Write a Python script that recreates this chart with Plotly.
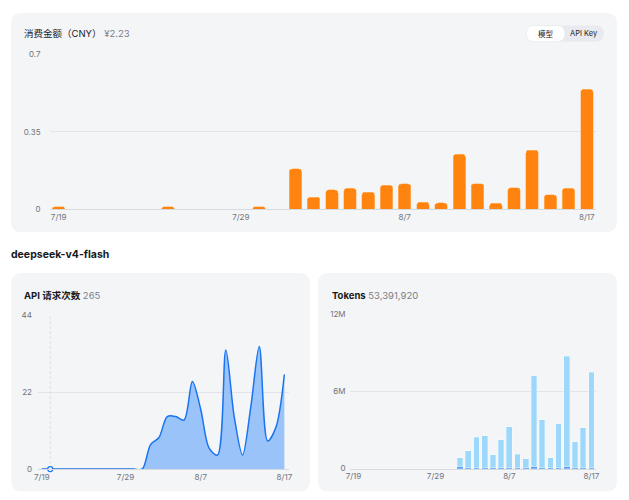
import pandas as pd
import plotly.graph_objects as go

# 30 days shown on every chart
days = pd.date_range("2026-07-19", "2026-08-17").strftime("%Y-%m-%d").tolist()
tick_days = ["2026-07-19", "2026-07-29", "2026-08-07", "2026-08-17"]
tick_labels = ["7/19", "7/29", "8/7", "8/17"]

# 消费金额 (CNY) per day
cost = [0.012, 0, 0, 0, 0, 0, 0.012, 0, 0, 0, 0, 0.012, 0,
        0.182, 0.055, 0.087, 0.094, 0.077, 0.108, 0.114, 0.031, 0.028,
        0.248, 0.115, 0.027, 0.097, 0.267, 0.065, 0.094, 0.542]

# deepseek-v4-flash API requests per day
requests = [0, 0, 0, 0, 0, 0, 0, 0, 0, 0, 0, 0, 0,
            7, 9, 15, 15, 14, 25, 17, 6, 4, 34, 15, 4, 18, 35, 8, 12, 27]

# tokens per day (total, and the darker bottom part)
tokens_total = [0] * 13 + [860000, 1400000, 2440000, 2570000, 1070000, 2240000, 3280000,
                           1140000, 760000, 7250000, 3810000, 860000, 3510000, 8770000,
                           2080000, 3200000, 7530000]
tokens_dark = [0] * 13 + [150000, 70000, 70000, 70000, 70000, 70000, 70000,
                          70000, 70000, 150000, 70000, 70000, 70000, 150000,
                          70000, 70000, 70000]
tokens_light = [t - d for t, d in zip(tokens_total, tokens_dark)]

# page body keeps its 8px margin, so the figure is drawn 8px in from the corner
OFF = 8
W, H = 629 - 2 * OFF, 500 - 2 * OFF
FONT = "Inter, 'Noto Sans CJK SC', sans-serif"
CARD = "#f4f5f7"
GRID = "#e2e4ea"
TICK = "#6f737b"


def px(x):
    return (x - OFF) / W


def py(y):
    return 1 - (y - OFF) / H


def rrect(x0, y0, x1, y1, r):
    rx, ry = r / W, r / H
    a, b, c, d = px(x0), py(y1), px(x1), py(y0)
    return (f"M{a+rx},{b} L{c-rx},{b} Q{c},{b} {c},{b+ry} L{c},{d-ry} Q{c},{d} {c-rx},{d} "
            f"L{a+rx},{d} Q{a},{d} {a},{d-ry} L{a},{b+ry} Q{a},{b} {a+rx},{b} Z")


def xrange_for(lo, hi):
    t0 = pd.Timestamp(days[0])
    return [t0 + pd.Timedelta(days=lo), t0 + pd.Timedelta(days=hi)]


fig = go.Figure()

fig.add_trace(go.Bar(x=days, y=cost, xaxis="x", yaxis="y",
                     marker=dict(color="#ff830f", line=dict(color="rgba(255,190,120,0.7)", width=0.8),
                                 cornerradius=3),
                     hoverinfo="skip"))

fig.add_trace(go.Scatter(x=days, y=requests, xaxis="x2", yaxis="y2", mode="lines",
                         line=dict(color="#1a73f0", width=1.5, shape="spline", smoothing=0.9),
                         fill="tozeroy", fillcolor="rgba(128,182,250,0.78)", hoverinfo="skip"))
fig.add_trace(go.Scatter(x=[days[1]], y=[requests[1]], xaxis="x2", yaxis="y2", mode="markers",
                         marker=dict(color="white", size=5, line=dict(color="#1a73f0", width=1.3)),
                         hoverinfo="skip", cliponaxis=False))

fig.add_trace(go.Bar(x=days, y=tokens_dark, xaxis="x3", yaxis="y3",
                     marker=dict(color="#5d9ff3", line=dict(width=0)), hoverinfo="skip"))
fig.add_trace(go.Bar(x=days, y=tokens_light, xaxis="x3", yaxis="y3",
                     marker=dict(color="#9dd8fb", line=dict(color="rgba(255,255,255,0.5)", width=0.6)),
                     hoverinfo="skip"))

xcommon = dict(type="date", tickvals=tick_days, ticktext=tick_labels, showgrid=False,
               zeroline=False, showline=True, linecolor="#d6d9e0", linewidth=1,
               ticks="", tickfont=dict(size=8, color=TICK, family=FONT), fixedrange=True)
ycommon = dict(showgrid=True, gridcolor=GRID, gridwidth=1, zeroline=False, showline=False,
               ticks="", tickfont=dict(size=8, color=TICK, family=FONT), fixedrange=True)

shapes = [
    dict(type="path", path=rrect(7, 8, 621, 232, 11), fillcolor=CARD, line=dict(width=0), layer="below"),
    dict(type="path", path=rrect(7.3, 273.5, 310, 496.7, 11), fillcolor=CARD, line=dict(width=0), layer="below"),
    dict(type="path", path=rrect(318, 273.5, 621, 496.7, 11), fillcolor=CARD, line=dict(width=0), layer="below"),
    dict(type="path", path=rrect(529, 20.7, 607.7, 37.3, 8.3), fillcolor="#e8eaef", line=dict(width=0)),
    dict(type="path", path=rrect(529, 20.7, 568.3, 37.3, 8.3), fillcolor="white",
         line=dict(color="#e4e6ea", width=0.6)),
]
for s in shapes:
    s.update(xref="paper", yref="paper")
# hover guide on the second day
shapes.append(dict(type="line", xref="x2", yref="y2 domain", x0=days[1], x1=days[1], y0=0, y1=1,
                   line=dict(color="#dcdfe5", width=1, dash="3px,2px"), layer="below"))

annotations = [
    dict(text="消费金额（CNY） <span style='color:#7a7e86'>¥2.23</span>", x=px(18), y=py(29.3),
         font=dict(size=9.5, color="#1f2226", family=FONT)),
    dict(text="模型", x=px(548.7), y=py(29), xanchor="center",
         font=dict(size=7.5, color="#1f2226", family=FONT)),
    dict(text="API Key", x=px(587.7), y=py(29), xanchor="center",
         font=dict(size=7.5, color="#1f2226", family=FONT)),
    dict(text="<b>deepseek-v4-flash</b>", x=px(5), y=py(255),
         font=dict(size=10.5, color="#16181b", family=FONT)),
    dict(text="<b>API 请求次数</b> <span style='color:#7a7e86'>265</span>", x=px(18), y=py(296.7),
         font=dict(size=9.5, color="#16181b", family=FONT)),
    dict(text="<b>Tokens</b> <span style='color:#7a7e86'>53,391,920</span>", x=px(330), y=py(296),
         font=dict(size=9.5, color="#16181b", family=FONT)),
]
for a in annotations:
    a.update(xref="paper", yref="paper", showarrow=False, yanchor="middle")
    a.setdefault("xanchor", "left")

fig.update_layout(
    width=W, height=H, margin=dict(l=0, r=0, t=0, b=0),
    paper_bgcolor="white", plot_bgcolor="rgba(0,0,0,0)",
    showlegend=False, barmode="stack", bargap=0.31, font=dict(family=FONT),
    xaxis=dict(xcommon, domain=[px(46), px(600)], range=xrange_for(-0.504, 29.52), anchor="y"),
    yaxis=dict(ycommon, domain=[py(208.3), py(50.3)], range=[0, 0.7], tickvals=[0, 0.35, 0.7],
               anchor="x", ticklabelstandoff=8),
    xaxis2=dict(xcommon, domain=[px(34.3), px(288.7)], range=xrange_for(-0.47, 29.56), anchor="y2"),
    yaxis2=dict(ycommon, domain=[py(473.7), py(316.3)], range=[0, 44], tickvals=[0, 22, 44],
                anchor="x2", ticklabelstandoff=5),
    xaxis3=dict(xcommon, domain=[px(350), px(600)], range=xrange_for(-0.48, 29.6), anchor="y3"),
    yaxis3=dict(ycommon, domain=[py(473.3), py(316)], range=[0, 12000000],
                tickvals=[0, 6000000, 12000000], tickformat="~s", anchor="x3", ticklabelstandoff=3),
    shapes=shapes, annotations=annotations,
)

fig.write_html("out.html")
